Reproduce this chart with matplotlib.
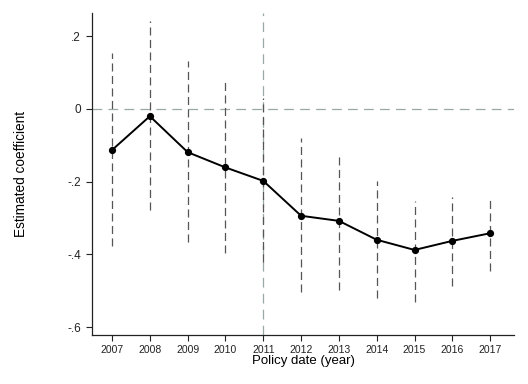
import matplotlib.pyplot as plt
import numpy as np

plt.rcParams['font.family'] = ['Liberation Sans', 'DejaVu Sans']
plt.rcParams['lines.scale_dashes'] = False

years = [2007, 2008, 2009, 2010, 2011, 2012, 2013, 2014, 2015, 2016, 2017]
coef = [-0.113, -0.020, -0.119, -0.161, -0.198, -0.294, -0.308, -0.360, -0.388, -0.363, -0.342]
ci_hi = [0.153, 0.243, 0.133, 0.080, 0.030, -0.081, -0.123, -0.198, -0.254, -0.243, -0.240]
ci_lo = [-0.376, -0.277, -0.367, -0.397, -0.420, -0.505, -0.498, -0.521, -0.530, -0.486, -0.447]
yticks = [0.2, 0, -0.2, -0.4, -0.6]
ytick_labels = ['.2', '0', '-.2', '-.4', '-.6']
policy_year = 2011

fig = plt.figure(figsize=(5.28, 3.84), dpi=100)
ax = fig.add_axes([92/528, 1 - 335/384, (514-92)/528, (335-13)/384])

# reference lines
ax.axhline(0, color='#9aa8a8', lw=0.9, ls=(0, (7, 4.5)), zorder=1)
ax.axvline(policy_year, color='#9aa8a8', lw=0.9, ls=(0, (7, 4.5)), zorder=1)

# confidence intervals
ax.vlines(years, ci_lo, ci_hi, colors='#555555', lw=0.9, linestyles=[(0, (5.8, 3.2))], zorder=2)

# point estimates
ax.plot(years, coef, color='black', lw=1.4, marker='o', ms=4.2, zorder=3)

ax.set_xlim(2006.47, 2017.63)
ax.set_ylim(-0.622, 0.264)
ax.set_xticks(years)
ax.set_yticks(yticks)
ax.set_yticklabels(ytick_labels)
ax.tick_params(axis='both', direction='out', length=4.5, width=0.8, labelsize=7.5, colors='#222222')
ax.tick_params(axis='x', pad=2.5)
ax.tick_params(axis='y', labelsize=8.5)
for s in ['top', 'right']:
    ax.spines[s].set_visible(False)
for s in ['left', 'bottom']:
    ax.spines[s].set_linewidth(0.9)
    ax.spines[s].set_color('#222222')

ax.set_xlabel('Policy date (year)', fontsize=9.5, labelpad=0)
ax.set_ylabel('Estimated coefficient', fontsize=9.8, labelpad=28)

fig.savefig('out.png', dpi=100)
